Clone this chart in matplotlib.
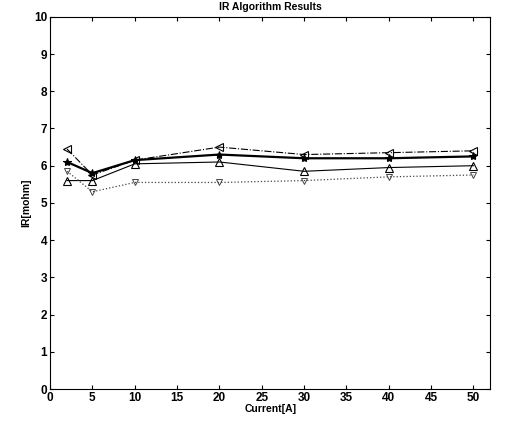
#!/usr/bin/env python3
"""IR algorithm results: internal resistance vs current, four runs."""
import matplotlib
matplotlib.use('Agg')
import matplotlib.pyplot as plt

current = [2, 5, 10, 20, 30, 40, 50]
ir_a = [6.45, 5.75, 6.15, 6.50, 6.30, 6.35, 6.40]
ir_b = [6.10, 5.80, 6.15, 6.30, 6.20, 6.20, 6.25]
ir_c = [5.60, 5.60, 6.05, 6.10, 5.85, 5.95, 6.00]
ir_d = [5.85, 5.30, 5.55, 5.55, 5.60, 5.70, 5.75]

x_ticks = [0, 5, 10, 15, 20, 25, 30, 35, 40, 45, 50]
y_ticks = list(range(0, 11))

plt.rcParams['font.family'] = ['Liberation Sans', 'DejaVu Sans']
plt.rcParams['font.weight'] = 'bold'

fig = plt.figure(figsize=(5.06, 4.21), dpi=100)
ax = fig.add_axes([0.099, 0.076, 0.870, 0.884])

ax.plot(current, ir_a, color='black', ls='-.', lw=0.8, marker='<',
        ms=6, mfc='none', mew=0.8)
ax.plot(current, ir_b, color='black', ls='-', lw=1.6, marker='*',
        ms=6, mew=0.8)
ax.plot(current, ir_c, color='black', ls='-', lw=0.8, marker='^',
        ms=6, mfc='none', mew=0.8)
ax.plot(current, ir_d, color='#444444', ls=':', lw=0.9, marker='v',
        ms=5, mfc='none', mew=0.7)

ax.set_xlim(0, 52)
ax.set_ylim(0, 10)
ax.set_xticks(x_ticks)
ax.set_yticks(y_ticks)
ax.tick_params(direction='in', top=True, right=True, length=3,
               labelsize=8.5, pad=2)
for s in ax.spines.values():
    s.set_linewidth(0.8)

ax.set_title('IR Algorithm Results', fontsize=7.5, fontweight='bold', pad=5)
ax.set_xlabel('Current[A]', fontsize=7.5, fontweight='bold', labelpad=0)
ax.set_ylabel('IR[mohm]', fontsize=7.5, fontweight='bold', labelpad=2)

fig.savefig('out.png', dpi=100)
